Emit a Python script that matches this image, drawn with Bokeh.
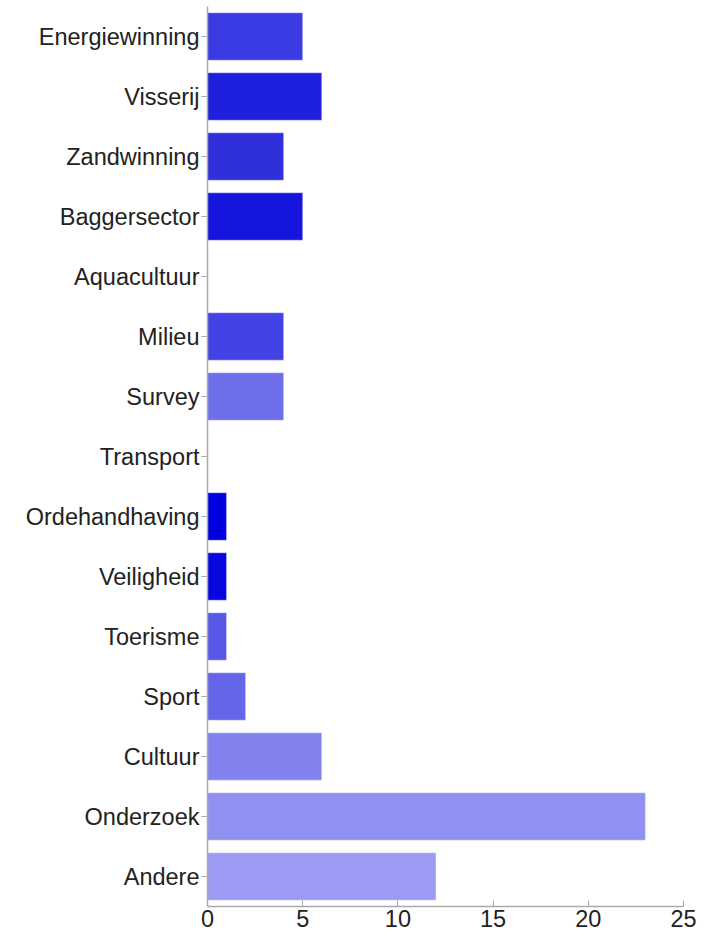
from bokeh.plotting import figure
from bokeh.models import FactorRange, Range1d, ColumnDataSource, FixedTicker
from bokeh.embed import file_html
from bokeh.resources import INLINE

categories = ["Energiewinning", "Visserij", "Zandwinning", "Baggersector", "Aquacultuur",
              "Milieu", "Survey", "Transport", "Ordehandhaving", "Veiligheid",
              "Toerisme", "Sport", "Cultuur", "Onderzoek", "Andere"]
values = [5, 6, 4, 5, 0, 4, 4, 0, 1, 1, 1, 2, 6, 23, 12]
colors = ["#3b3be3", "#1f1fde", "#2f2fdc", "#1515de", "#4848e6",
          "#4242e5", "#6e6eeb", "#5050e6", "#0000de", "#0808de",
          "#5858e8", "#6565ea", "#8282ee", "#9090f0", "#9b9bf3"]
x_ticks = [0, 5, 10, 15, 20, 25]

src = ColumnDataSource(dict(cat=categories, val=values, color=colors))

p = figure(width=697, height=933, output_backend="svg", toolbar_location=None,
           y_range=FactorRange(factors=list(reversed(categories)), range_padding=0),
           x_range=Range1d(0, 25),
           min_border_left=207, min_border_right=14, min_border_top=6, min_border_bottom=27)

p.hbar(y="cat", right="val", left=0, height=0.79, fill_color="color",
       line_color="white", line_alpha=0.35, line_width=1, source=src)

p.outline_line_color = None
p.grid.visible = False
p.background_fill_color = "white"
p.border_fill_color = "white"

fnt = "Liberation Sans"
for ax in (p.xaxis[0], p.yaxis[0]):
    ax.axis_line_color = "#aaaaaa"
    ax.axis_line_width = 1.5
    ax.major_tick_line_color = "#aaaaaa"
    ax.major_label_text_font = fnt
    ax.major_label_text_font_size = "23.5px"
    ax.major_label_text_color = "#222222"
    ax.minor_tick_line_color = None

p.yaxis.major_tick_out = 6
p.yaxis.major_tick_in = 0
p.yaxis.major_label_standoff = 2
p.xaxis.major_tick_out = 0
p.xaxis.major_tick_in = 6
p.xaxis.major_label_standoff = 3
p.xaxis.ticker = FixedTicker(ticks=x_ticks)

open("out.html", "w").write(file_html(p, INLINE))
